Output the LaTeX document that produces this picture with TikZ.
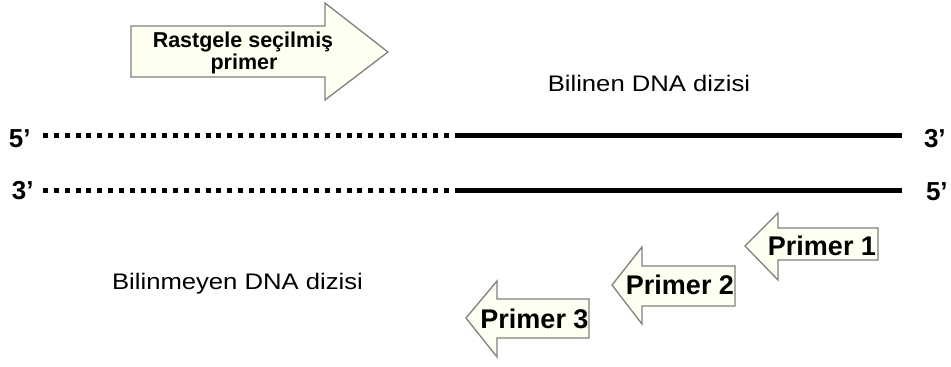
\documentclass[tikz,border=0pt]{standalone}
\usepackage{fontspec}
\setmainfont{Liberation Sans}
\begin{document}
\begin{tikzpicture}[x=1pt,y=-1pt,
  arrowshape/.style={draw=black!50,fill=arrowfill,line width=1.3pt,line join=miter},
  lbl/.style={inner sep=0pt,outer sep=0pt,anchor=base},
  endlbl/.style={inner sep=0pt,outer sep=0pt,font=\fontsize{26}{30}\selectfont\bfseries},
  primerlbl/.style={inner sep=0pt,outer sep=0pt,anchor=base,font=\fontsize{27}{30}\selectfont\bfseries},
  dnalbl/.style={inner sep=0pt,outer sep=0pt,anchor=base,font=\fontsize{22.5}{26}\selectfont},
  dotted strand/.style={line width=5pt,line cap=butt,dash pattern=on 5pt off 5.84pt},
  solid strand/.style={line width=5pt,line cap=butt}
]
\definecolor{arrowfill}{HTML}{FFFFF2}
\useasboundingbox (0,0) rectangle (951,367);

% big arrow (random primer)
\draw[arrowshape] (131,26) -- (325,26) -- (325,3) -- (388,52) -- (325,100) -- (325,77) -- (131,77) -- cycle;
\node[lbl,font=\fontsize{21.5}{24}\selectfont\bfseries] (rp1) at (243,47) {Rastgele seçilmiş};
\node[lbl,font=\fontsize{21.5}{24}\selectfont\bfseries] (rp2) at (244,69) {primer};

% labels
\node[dnalbl] (known) at (649,91) {\scalebox{1.14}[1]{Bilinen DNA dizisi}};
\node[dnalbl] (unknown) at (237.5,289) {\scalebox{1.14}[1]{Bilinmeyen DNA dizisi}};

% strand end labels
\node[endlbl,anchor=base west] (t5) at (9,147) {5’};
\node[endlbl,anchor=base west] (b3) at (12,199) {3’};
\node[endlbl,anchor=base west] (t3) at (924,147) {3’};
\node[endlbl,anchor=base west] (b5) at (926,200) {5’};

% strands
\coordinate (ta) at (43,135.5);
\coordinate (tb) at (449,135.5);
\coordinate (tc) at (455,135.5);
\coordinate (td) at (902,135.5);
\coordinate (ba) at (43,190.5);
\coordinate (bb) at (449,190.5);
\coordinate (bc) at (455,190.5);
\coordinate (bd) at (902,190.5);
\draw[dotted strand] (ta) -- (tb);
\draw[solid strand] (tc) -- (td);
\draw[dotted strand] (ba) -- (bb);
\draw[solid strand] (bc) -- (bd);

% primer arrows
\draw[arrowshape] (878,228) -- (778,228) -- (778,213) -- (745,246) -- (778,280) -- (778,260) -- (878,260) -- cycle;
\node[primerlbl] (p1) at (822,255) {Primer 1};
\draw[arrowshape] (735,266) -- (642,266) -- (642,247) -- (612,285) -- (642,324) -- (642,306) -- (735,306) -- cycle;
\node[primerlbl] (p2) at (680,294) {Primer 2};
\draw[arrowshape] (589,299) -- (497,299) -- (497,281) -- (466,318) -- (497,357) -- (497,338) -- (589,338) -- cycle;
\node[primerlbl] (p3) at (534.5,328) {Primer 3};
\end{tikzpicture}
\end{document}
